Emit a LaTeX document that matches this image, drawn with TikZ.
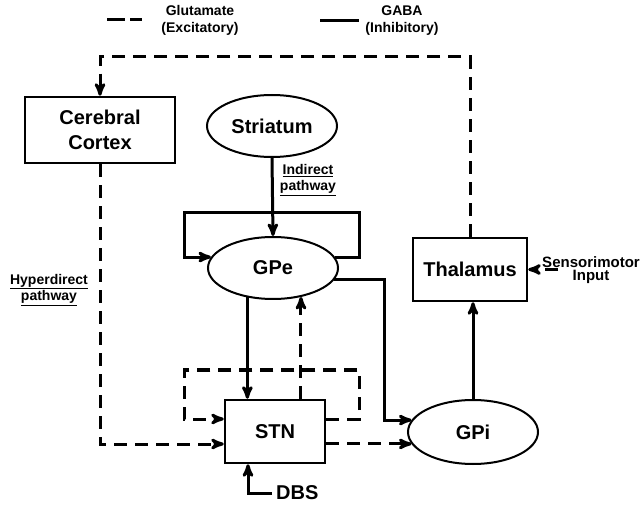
\documentclass[tikz,border=0pt]{standalone}
\usepackage{fontspec}
\setmainfont{Liberation Sans}
\usetikzlibrary{arrows,shapes.geometric}

\begin{document}
\begin{tikzpicture}[>=stealth', x=1pt, y=-1pt,
  region/.style={rectangle,draw,line width=2.5pt,inner sep=0pt,align=center,
    font=\bfseries\fontsize{20}{25}\selectfont},
  nucleus/.style={ellipse,draw,line width=2pt,inner sep=0pt,minimum width=130pt,
    minimum height=62pt,font=\bfseries\fontsize{20}{25}\selectfont},
  gaba/.style={line width=3pt},
  glut/.style={line width=3pt,dash pattern=on 13pt off 8pt},
  note/.style={align=center,font=\bfseries\fontsize{14}{16.5}\selectfont}]
\useasboundingbox (0,0) rectangle (641,508);

% legend
\coordinate (glutA) at (107,20);
\coordinate (glutB) at (142,20);
\coordinate (gabaA) at (320,21);
\coordinate (gabaB) at (359,21);
\draw[glut,dash pattern=on 18pt off 5pt] (glutA) -- (glutB);
\draw[gaba] (gabaA) -- (gabaB);
\node[note] (glutkey) at (200,20.5) {Glutamate\\(Excitatory)};
\node[note] (gabakey) at (402,20.5) {GABA\\(Inhibitory)};

% regions
\node[region,minimum width=150pt,minimum height=66pt] (cortex) at (100,130) {Cerebral\\Cortex};
\node[nucleus] (striatum) at (272,126) {Striatum};
\node[nucleus] (gpe) at (273,268) {GPe};
\node[region,minimum width=100pt,minimum height=63pt] (stn) at (275,431.5) {STN};
\node[nucleus,minimum height=64pt] (gpi) at (473,432) {GPi};
\node[region,minimum width=114pt,minimum height=63pt] (thalamus) at (470,269.5) {Thalamus};
\node[anchor=west,inner sep=4pt,font=\bfseries\fontsize{20}{25}\selectfont] (dbs) at (272,493) {DBS};
\node[align=center,font=\bfseries\fontsize{15}{13.5}\selectfont] (sens) at (591,270) {Sensorimotor\\Input};
\coordinate (sensin) at (558,269.5);

% pathway labels
\node[note] (indirect) at (308,180) {\underline{Indirect}\\\underline{pathway}};
\node[note] (hyper) at (49,290) {\underline{Hyperdirect}\\\underline{pathway}};

% inhibitory
\draw[gaba,->] (striatum.south) -- (gpe.north);
\draw[gaba,->] (gpe.10) -- ++(24,0) -- ++(0,-45) -- ++(-175,0) |- (gpe.170);
\draw[gaba,->] (gpe.229) -- (gpe.229 |- stn.north);
\draw[gaba,->] (gpe.349) -- ++(50,0) |- (gpi.169);
\draw[gaba,->] (gpi.north) -- (gpi.north |- thalamus.south);
\draw[gaba,->] (dbs.west) -| ([xshift=-27pt]stn.south);

% excitatory
\draw[glut,->] (stn.north -| gpe.314) -- (gpe.314);
\draw[glut,->] ([yshift=12.5pt]stn.east) -- ++(33,0) -- ++(0,-49) -- ++(-175,0) |- ([yshift=12.5pt]stn.west);
\draw[glut,->] (cortex.south) |- ([yshift=-12.5pt]stn.west);
\draw[glut,->] (gpi.191 -| stn.east) -- (gpi.191);
\draw[glut,->] (thalamus.north) -- ++(0,-180) -| (cortex.north);
\draw[glut,->] (sensin) -- (thalamus.east);
\end{tikzpicture}
\end{document}
